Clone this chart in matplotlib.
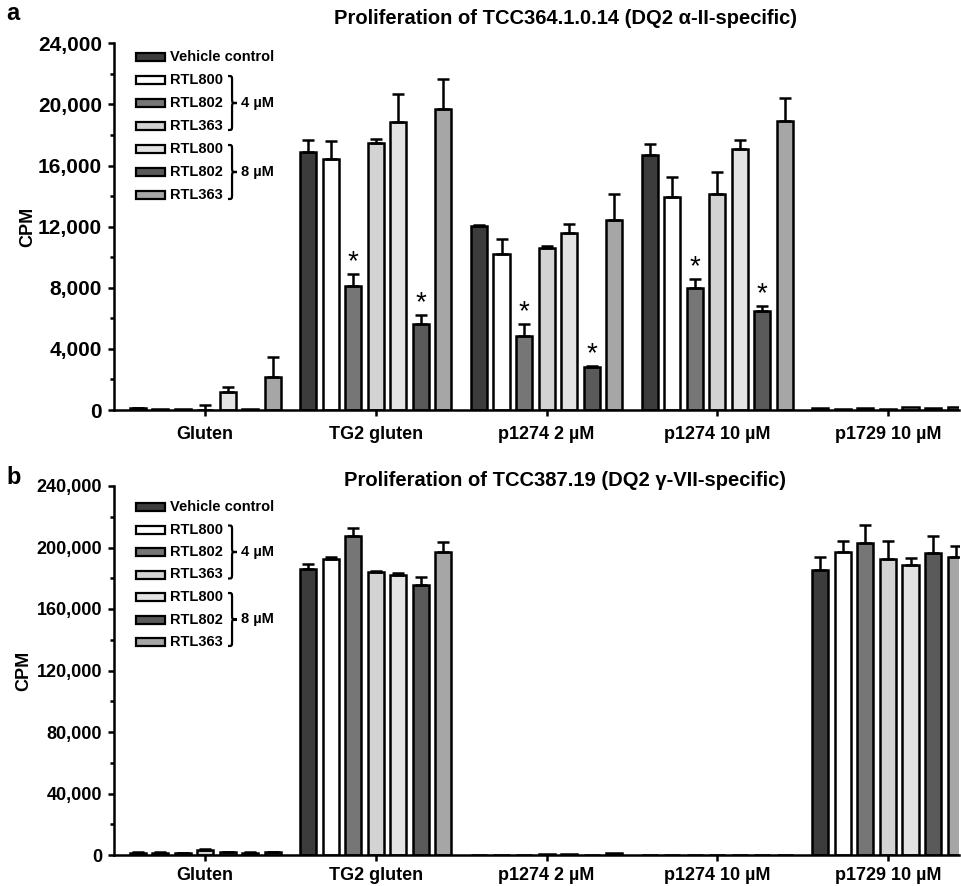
import matplotlib
matplotlib.use("Agg")
import matplotlib.pyplot as plt
import numpy as np
from matplotlib.patches import Rectangle, PathPatch
from matplotlib.path import Path
from matplotlib.ticker import MultipleLocator, FuncFormatter

plt.rcParams['font.family'] = ['Liberation Sans', 'DejaVu Sans']

# ---------------- data ----------------
groups = ["Gluten", "TG2 gluten", "p1274 2 µM", "p1274 10 µM", "p1729 10 µM"]
series = ["Vehicle control", "RTL800 4 µM", "RTL802 4 µM", "RTL363 4 µM",
          "RTL800 8 µM", "RTL802 8 µM", "RTL363 8 µM"]
legend_labels = ["Vehicle control", "RTL800", "RTL802", "RTL363", "RTL800", "RTL802", "RTL363"]
colors = ["#3c3c3c", "#ffffff", "#767676", "#d3d3d3", "#e3e3e3", "#5a5a5a", "#a6a6a6"]

# Panel a (CPM), rows = groups, columns = series
a_means = [
    [100, 60, 50, 20, 1150, 50, 2150],
    [16900, 16400, 8100, 17450, 18850, 5600, 19700],
    [12050, 10200, 4850, 10600, 11600, 2800, 12450],
    [16700, 13950, 8000, 14150, 17050, 6450, 18900],
    [100, 60, 120, 60, 200, 120, 180],
]
a_errs = [
    [20, 0, 0, 300, 350, 0, 1300],
    [750, 1200, 800, 300, 1800, 650, 1950],
    [50, 1000, 750, 120, 600, 80, 1700],
    [700, 1300, 550, 1400, 650, 370, 1550],
    [0, 0, 0, 0, 0, 0, 0],
]
# significance marks (group index, series index)
a_stars = [(1, 2), (1, 5), (2, 2), (2, 5), (3, 2), (3, 5)]

# Panel b (CPM)
b_means = [
    [1600, 1600, 1400, 3200, 1800, 1600, 1800],
    [186100, 192400, 207500, 184000, 182200, 175300, 197000],
    [300, 300, 300, 500, 800, 300, 1000],
    [200, 200, 200, 200, 200, 200, 200],
    [185500, 197300, 203200, 192400, 188300, 196300, 193700],
]
b_errs = [
    [200, 200, 200, 800, 200, 200, 300],
    [3300, 1200, 5000, 1000, 1300, 5800, 6900],
    [0, 0, 0, 0, 0, 0, 0],
    [0, 0, 0, 0, 0, 0, 0],
    [8200, 7000, 11500, 11900, 4800, 11200, 7300],
]

a_title = "Proliferation of TCC364.1.0.14 (DQ2 α-II-specific)"
b_title = "Proliferation of TCC387.19 (DQ2 γ-VII-specific)"

# ---------------- figure ----------------
W, H = 961, 886
fig = plt.figure(figsize=(W / 100, H / 100), dpi=100)


def fx(x):
    return x / W


def fy(y):
    return 1 - y / H


ax_a = fig.add_axes([fx(114), fy(410), (959 - 114) / W, (410 - 43.3) / H])
ax_b = fig.add_axes([fx(114), fy(855), (959 - 114) / W, (855 - 486) / H])

step = 0.132
bw = 0.094
LW = 1.8


def draw_panel(ax, means, errs, ymax, major, xpad, labx, ysize, stars=None):
    means = np.array(means, dtype=float)
    errs = np.array(errs, dtype=float)
    gx = np.arange(len(groups))
    for j in range(len(series)):
        xs = gx + (j - 3) * step
        ax.bar(xs, means[:, j], width=bw, color=colors[j], edgecolor="black",
               linewidth=LW, zorder=2)
        e = errs[:, j]
        mask = e > 0
        if mask.any():
            ax.errorbar(xs[mask], means[mask, j],
                        yerr=[np.zeros(mask.sum()), e[mask]],
                        fmt="none", ecolor="black", elinewidth=LW,
                        capsize=4, capthick=LW, zorder=3)
    if stars:
        for g, j in stars:
            ytop = means[g, j] + errs[g, j]
            ax.text(g + (j - 3) * step, ytop + ymax * 0.032, "*",
                    ha="center", va="center", fontsize=20, zorder=4)
    ax.set_xlim(-0.534, 4.416)
    ax.set_ylim(0, ymax)
    ax.set_xticks(gx)
    ax.set_xticklabels(groups, fontsize=13, fontweight="bold")
    ax.yaxis.set_major_locator(MultipleLocator(major))
    ax.yaxis.set_minor_locator(MultipleLocator(major / 2))
    ax.yaxis.set_major_formatter(FuncFormatter(lambda v, p: f"{int(v):,}"))
    ax.tick_params(axis="y", which="major", labelsize=ysize, length=4.5, width=LW, pad=4)
    ax.tick_params(axis="y", which="minor", length=3, width=LW)
    ax.tick_params(axis="x", which="major", length=4.5, width=LW, pad=xpad)
    for lab in ax.get_yticklabels():
        lab.set_fontweight("bold")
    for s in ["top", "right"]:
        ax.spines[s].set_visible(False)
    for s in ["left", "bottom"]:
        ax.spines[s].set_linewidth(LW)
    ax.set_ylabel("CPM", fontsize=13, fontweight="bold")
    ax.yaxis.set_label_coords(labx, 0.5)


draw_panel(ax_a, a_means, a_errs, 24000, 4000, 7, -0.092, 15, a_stars)
draw_panel(ax_b, b_means, b_errs, 240000, 40000, 4.5, -0.097, 13)


def brace(x0, ytop, ybot, w=9.0):
    xm = x0 + w * 0.45
    ym = (ytop + ybot) / 2
    d = 5
    pts = [(x0, ytop), (xm, ytop), (xm, ytop), (xm, ytop + d),
           (xm, ym - d),
           (xm, ym), (xm, ym), (x0 + w, ym),
           (xm, ym), (xm, ym), (xm, ym + d),
           (xm, ybot - d),
           (xm, ybot), (xm, ybot), (x0, ybot)]
    codes = [Path.MOVETO, Path.CURVE4, Path.CURVE4, Path.CURVE4,
             Path.LINETO,
             Path.CURVE4, Path.CURVE4, Path.CURVE4,
             Path.CURVE4, Path.CURVE4, Path.CURVE4,
             Path.LINETO,
             Path.CURVE4, Path.CURVE4, Path.CURVE4]
    verts = [(fx(x), fy(y)) for x, y in pts]
    fig.add_artist(PathPatch(Path(verts, codes), fill=False, lw=1.6,
                             edgecolor="black", transform=fig.transFigure))


def draw_legend(y0, dy):
    rows = [y0 + dy * i for i in range(7)]
    for i, (lab, c) in enumerate(zip(legend_labels, colors)):
        fig.add_artist(Rectangle((fx(136), fy(rows[i] + 4)), 29 / W, 8 / H,
                                 facecolor=c, edgecolor="black", lw=1.6,
                                 transform=fig.transFigure))
        fig.text(fx(170), fy(rows[i]), lab, fontsize=10.5, fontweight="bold",
                 va="center", ha="left")
    brace(228, rows[1] - 4, rows[3] + 4)
    fig.text(fx(241), fy(rows[2]), "4 µM", fontsize=10.5, fontweight="bold",
             va="center", ha="left")
    brace(228, rows[4] - 4, rows[6] + 4)
    fig.text(fx(241), fy(rows[5]), "8 µM", fontsize=10.5, fontweight="bold",
             va="center", ha="left")


draw_legend(57, 23)
draw_legend(507, 22.5)

fig.text(fx(565), fy(18), a_title, fontsize=14.5, fontweight="bold",
         ha="center", va="center")
fig.text(fx(565), fy(480), b_title, fontsize=14.5, fontweight="bold",
         ha="center", va="center")
fig.text(fx(6), fy(14), "a", fontsize=17, fontweight="bold", ha="left", va="center")
fig.text(fx(6), fy(477), "b", fontsize=17, fontweight="bold", ha="left", va="center")

fig.savefig("out.png", dpi=100)
